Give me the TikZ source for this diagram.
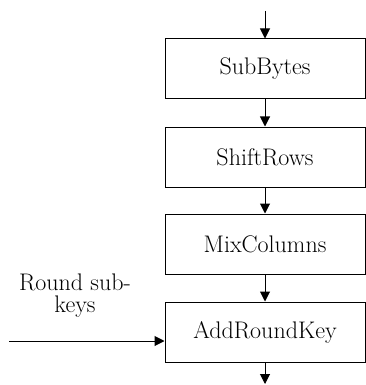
\documentclass[tikz,border=0pt]{standalone}
\usetikzlibrary{arrows.meta}
\begin{document}
\begin{tikzpicture}[x=1pt,y=-1pt,
  stage/.style={draw,line width=1pt,minimum width=200pt,minimum height=60pt,
    inner sep=0pt,font=\fontsize{24}{26}\selectfont},
  flow/.style={line width=1pt,-{Triangle[length=10pt,width=10pt]}},
  lbl/.style={align=center,font=\fontsize{24}{22}\selectfont}]
  \useasboundingbox (0,0) rectangle (366,385);
  % the four stages of one round
  \node[stage] (sb)  at (265,69)  {SubBytes};
  \node[stage] (sr)  at (265,157) {ShiftRows};
  \node[stage] (mc)  at (265,244) {MixColumns};
  \node[stage] (ark) at (265,332) {AddRoundKey};
  % round input and output
  \coordinate (in)  at (265,11);
  \coordinate (out) at (265,384);
  \coordinate (key) at (9,341);
  \draw[flow] (in) -- (sb.north);
  \draw[flow] (sb) -- (sr);
  \draw[flow] (sr) -- (mc);
  \draw[flow] (mc) -- (ark);
  \draw[flow] (ark) -- (out);
  % sub-key injection
  \node[lbl] (keylbl) at (75,296) {Round sub-\\keys};
  \draw[flow] (key) -- (key -| ark.west);
\end{tikzpicture}
\end{document}
